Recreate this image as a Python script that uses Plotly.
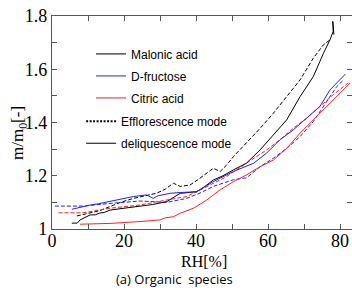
import plotly.graph_objects as go

# ---------------- data ----------------
mal_del_rh = [5.5, 7.0, 7.8, 9.2, 10.6, 12.0, 13.3, 14.5, 16.1, 20.0, 24.4, 28.0, 31.9, 34.0, 35.6, 40.2, 42.5, 44.8, 47.5, 50.4, 54.0, 57.8, 61.5, 65.2, 68.9, 72.6, 75.4, 77.2, 78.1, 78.0, 78.3]
mal_del_m = [1.022, 1.022, 1.034, 1.045, 1.053, 1.053, 1.060, 1.062, 1.071, 1.078, 1.086, 1.092, 1.103, 1.120, 1.134, 1.140, 1.160, 1.184, 1.200, 1.222, 1.247, 1.297, 1.353, 1.410, 1.497, 1.573, 1.660, 1.710, 1.742, 1.780, 1.730]

mal_eff_rh = [6.9, 9.0, 11.0, 13.0, 16.1, 19.0, 22.6, 26.0, 29.0, 31.5, 33.7, 35.6, 38.3, 40.5, 43.0, 44.8, 46.7, 48.5, 50.4, 54.0, 57.8, 61.5, 65.2, 68.9, 72.6, 75.4, 77.2]
mal_eff_m = [1.049, 1.055, 1.062, 1.068, 1.084, 1.100, 1.115, 1.125, 1.134, 1.150, 1.172, 1.160, 1.165, 1.185, 1.210, 1.228, 1.216, 1.240, 1.272, 1.322, 1.378, 1.435, 1.497, 1.560, 1.642, 1.692, 1.710]

fru_del_rh = [5.5, 8.0, 10.6, 13.0, 16.1, 19.0, 22.6, 26.3, 27.2, 28.1, 29.5, 32.8, 35.6, 40.2, 44.8, 50.4, 56.0, 59.6, 63.3, 67.0, 70.7, 74.4, 77.2, 80.0, 81.5]
fru_del_m = [1.074, 1.082, 1.090, 1.095, 1.103, 1.112, 1.122, 1.128, 1.120, 1.115, 1.125, 1.134, 1.137, 1.140, 1.178, 1.216, 1.247, 1.285, 1.335, 1.372, 1.416, 1.460, 1.522, 1.560, 1.582]

fru_eff_rh = [0.8, 8.7, 16.1, 24.4, 31.9, 37.4, 41.1, 44.8, 50.4, 54.0, 57.8, 61.5, 65.2, 68.9, 72.6, 76.3, 79.1, 81.0]
fru_eff_m = [1.086, 1.086, 1.096, 1.105, 1.100, 1.115, 1.135, 1.160, 1.185, 1.192, 1.234, 1.266, 1.303, 1.347, 1.404, 1.479, 1.535, 1.560]

cit_del_rh = [7.8, 16.1, 24.4, 30.0, 31.5, 33.7, 35.6, 39.3, 43.0, 46.7, 50.4, 54.0, 57.8, 61.5, 65.2, 68.9, 72.6, 76.3, 80.0, 82.8]
cit_del_m = [1.018, 1.021, 1.028, 1.034, 1.042, 1.046, 1.059, 1.078, 1.109, 1.147, 1.178, 1.203, 1.234, 1.259, 1.303, 1.360, 1.410, 1.460, 1.510, 1.548]

cit_eff_rh = [1.8, 8.7, 16.1, 24.4, 31.9, 37.4, 43.0, 48.5, 54.0, 59.6, 63.3, 67.0, 70.7, 74.4, 78.1, 82.8]
cit_eff_m = [1.061, 1.061, 1.078, 1.090, 1.109, 1.122, 1.159, 1.197, 1.247, 1.297, 1.335, 1.378, 1.416, 1.460, 1.504, 1.554]

species = ["Malonic acid", "D-fructose", "Citric acid"]
modes = ["Efflorescence mode", "deliquescence mode"]

x_tickvals = [0, 20, 40, 60, 80]
x_ticktext = ["0", "20", "40", "60", "80"]
y_tickvals = [1.0, 1.2, 1.4, 1.6, 1.8]
y_ticktext = ["1", "1.2", "1.4", "1.6", "1.8"]

BLACK = "#000000"
BLUE = "#1f1fff"
RED = "#ff1f1f"

fig = go.Figure()

def add(rh, m, color, dash, width=1.0):
    fig.add_trace(go.Scatter(x=rh, y=m, mode="lines", showlegend=False,
                             line=dict(color=color, dash=dash, width=width)))

add(mal_eff_rh, mal_eff_m, BLACK, "4px,2px")
add(fru_eff_rh, fru_eff_m, BLUE, "4px,2px")
add(cit_eff_rh, cit_eff_m, RED, "4px,2px")
add(mal_del_rh, mal_del_m, BLACK, "solid")
add(fru_del_rh, fru_del_m, BLUE, "solid")
add(cit_del_rh, cit_del_m, RED, "solid")

# legend entries
for name, col in zip(species, [BLACK, BLUE, RED]):
    fig.add_trace(go.Scatter(x=[None], y=[None], mode="lines", name=name,
                             legendgroup=name, legend="legend",
                             line=dict(color=col, width=1)))
for name, dash, w in zip(modes, ["2px,1.5px", "solid"], [2, 1]):
    fig.add_trace(go.Scatter(x=[None], y=[None], mode="lines", name=name,
                             legendgroup=name, legend="legend2",
                             line=dict(color=BLACK, width=w, dash=dash)))

axis_common = dict(
    showgrid=False, zeroline=False, showline=True, linecolor="#555555",
    linewidth=1.3, mirror="allticks", ticks="inside", ticklen=5,
    tickcolor="#555555", tickwidth=1, automargin=False,
    tickfont=dict(family="Liberation Serif", size=18, color="black"),
)

fig.update_layout(
    width=352, height=288,
    margin=dict(l=52, r=0, t=16, b=59),
    paper_bgcolor="white", plot_bgcolor="white",
    xaxis=dict(range=[0, 83.33], tickvals=x_tickvals, ticktext=x_ticktext,
               ticklabelstandoff=-5,
               minor=dict(dtick=10, tick0=0, ticks="inside", ticklen=5,
                          tickcolor="#555555", tickwidth=1, showgrid=False),
               **axis_common),
    yaxis=dict(range=[1.0, 1.8], tickvals=y_tickvals, ticktext=y_ticktext,
               minor=dict(dtick=0.1, tick0=1.0, ticks="inside", ticklen=5,
                          tickcolor="#555555", tickwidth=1, showgrid=False),
               **axis_common),
    legend=dict(x=0.13, y=0.89, xanchor="left", yanchor="top",
                bgcolor="rgba(0,0,0,0)", traceorder="grouped", tracegroupgap=3,
                font=dict(family="Liberation Sans", size=12, color="black")),
    legend2=dict(x=0.097, y=0.574, xanchor="left", yanchor="top",
                 bgcolor="rgba(0,0,0,0)", traceorder="grouped", tracegroupgap=3,
                 font=dict(family="Liberation Sans", size=12, color="black")),
    annotations=[
        dict(text="m/m<sub>0</sub>[-]", textangle=-90, xref="paper", yref="paper",
             x=(19 - 52) / 300, y=(229 - 133) / 213, showarrow=False,
             xanchor="center", yanchor="middle",
             font=dict(family="Liberation Serif", size=17, color="black")),
        dict(text="RH[%]", xref="paper", yref="paper",
             x=(204 - 52) / 300, y=(229 - 261) / 213, showarrow=False,
             xanchor="center", yanchor="middle",
             font=dict(family="Liberation Serif", size=16, color="black")),
        dict(text="(a) Organic  species", xref="paper", yref="paper",
             x=(174 - 52) / 300, y=(229 - 279) / 213, showarrow=False,
             xanchor="center", yanchor="middle",
             font=dict(family="Open Sans", size=13, color="black")),
    ],
)

fig.write_html("out.html", config={"displayModeBar": False},
               post_script="document.body.style.margin='0';document.body.style.overflow='hidden';")
